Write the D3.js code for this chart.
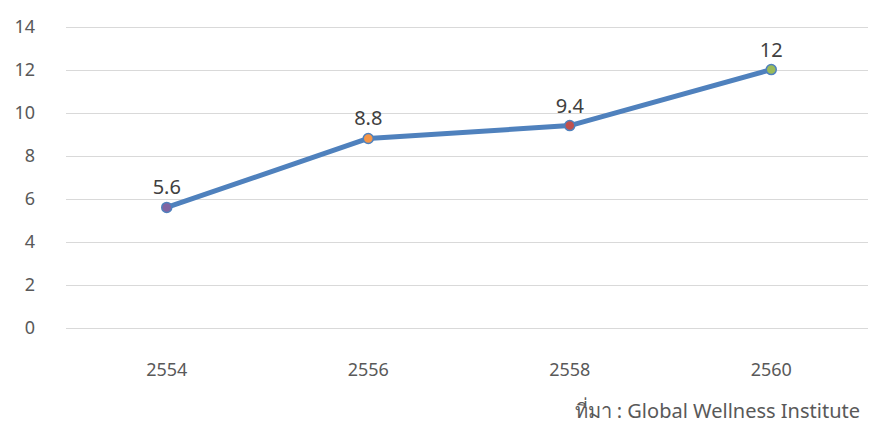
<!DOCTYPE html>
<html>
<head>
<meta charset="utf-8">
<script src="https://cdn.jsdelivr.net/npm/d3@7"></script>
<style>
  body { margin: 0; background: #fff; }
  svg text { font-family: "Noto Sans", "Open Sans", sans-serif; fill: #595959; }
</style>
</head>
<body>
<div id="chart"></div>
<script>
// data
const years = ["2554", "2556", "2558", "2560"];
const values = [5.6, 8.8, 9.4, 12];
const markerColors = ["#8064a2", "#f79646", "#c0504d", "#9bbb59"];
const yTicks = [0, 2, 4, 6, 8, 10, 12, 14];
const sourceText = "ที่มา : Global Wellness Institute";

const width = 870, height = 424;
const svg = d3.select("#chart").append("svg")
    .attr("width", width)
    .attr("height", height);

const xScale = d3.scaleBand().domain(years).range([66, 872]);
const yScale = d3.scaleLinear().domain([0, 14]).range([328, 26.5]);

// gridlines
svg.append("g")
    .selectAll("line")
    .data(yTicks)
    .join("line")
    .attr("x1", 66)
    .attr("x2", 868)
    .attr("y1", d => Math.round(yScale(d)) + 0.5)
    .attr("y2", d => Math.round(yScale(d)) + 0.5)
    .attr("stroke", "#d9d9d9")
    .attr("stroke-width", 1);

// y tick labels
svg.append("g")
    .selectAll("text")
    .data(yTicks)
    .join("text")
    .attr("x", 35)
    .attr("y", d => yScale(d))
    .attr("dy", "0.35em")
    .attr("text-anchor", "end")
    .style("font-size", "18px")
    .text(d => d);

// x labels
svg.append("g")
    .selectAll("text")
    .data(years)
    .join("text")
    .attr("x", d => xScale(d) + xScale.bandwidth() / 2)
    .attr("y", 376)
    .attr("text-anchor", "middle")
    .style("font-size", "18px")
    .text(d => d);

const points = years.map((y, i) => ({ year: y, value: values[i], color: markerColors[i] }));

const line = d3.line()
    .x(d => xScale(d.year) + xScale.bandwidth() / 2)
    .y(d => yScale(d.value));

svg.append("path")
    .datum(points)
    .attr("d", line)
    .attr("fill", "none")
    .attr("stroke", "#4f81bd")
    .attr("stroke-width", 5)
    .attr("stroke-linejoin", "round")
    .attr("stroke-linecap", "round");

svg.append("g")
    .selectAll("circle")
    .data(points)
    .join("circle")
    .attr("cx", d => xScale(d.year) + xScale.bandwidth() / 2)
    .attr("cy", d => yScale(d.value))
    .attr("r", 5)
    .attr("fill", d => d.color)
    .attr("stroke", "#4f81bd")
    .attr("stroke-width", 1.5);

// data labels
svg.append("g")
    .selectAll("text")
    .data(points)
    .join("text")
    .attr("x", d => xScale(d.year) + xScale.bandwidth() / 2)
    .attr("y", d => yScale(d.value) - 13)
    .attr("text-anchor", "middle")
    .style("font-size", "20px")
    .style("fill", "#404040")
    .text(d => d.value);

// source
svg.append("text")
    .attr("x", 860)
    .attr("y", 418)
    .attr("text-anchor", "end")
    .style("font-size", "20px")
    .text(sourceText);
</script>
</body>
</html>
